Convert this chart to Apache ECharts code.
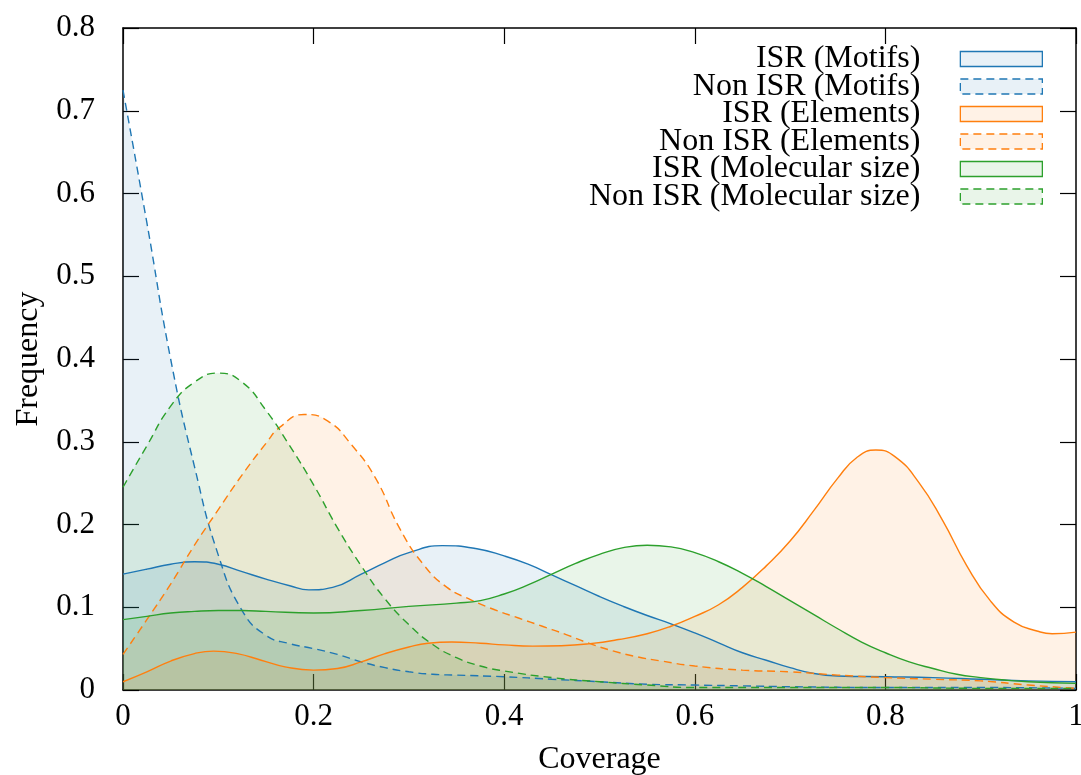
<!DOCTYPE html>
<html>
<head>
<meta charset="utf-8">
<script src="https://cdn.jsdelivr.net/npm/echarts@6/dist/echarts.min.js"></script>
<style>
  html, body { margin: 0; padding: 0; background: #ffffff; }
  #chart { width: 1081px; height: 775px; }
</style>
</head>
<body>
<div id="chart"></div>
<script>
// Density curves as [coverage, frequency] samples, one array per group
const isrMotifs = [[0, 0.140], [0.025, 0.146], [0.05, 0.152], [0.075, 0.155], [0.1, 0.152],
  [0.125, 0.143], [0.15, 0.134], [0.175, 0.126], [0.195, 0.121], [0.22, 0.124], [0.25, 0.140],
  [0.275, 0.154], [0.3, 0.166], [0.335, 0.1745], [0.37, 0.171], [0.4, 0.162], [0.425, 0.152],
  [0.45, 0.139], [0.475, 0.126], [0.5, 0.113], [0.525, 0.101], [0.55, 0.090], [0.575, 0.080],
  [0.6, 0.069], [0.625, 0.057], [0.65, 0.045], [0.675, 0.036], [0.7, 0.027], [0.725, 0.020],
  [0.75, 0.017], [0.8, 0.016], [0.85, 0.015], [0.9, 0.013], [0.95, 0.011], [1, 0.010]];

const nonIsrMotifs = [[0, 0.725], [0.025, 0.565], [0.05, 0.400], [0.075, 0.270], [0.1, 0.163],
  [0.125, 0.096], [0.15, 0.066], [0.175, 0.056], [0.2, 0.050], [0.225, 0.043], [0.25, 0.034],
  [0.275, 0.027], [0.3, 0.022], [0.325, 0.019], [0.35, 0.018], [0.4, 0.016], [0.45, 0.013],
  [0.5, 0.010], [0.55, 0.007], [0.6, 0.006], [0.65, 0.005], [0.7, 0.004], [0.8, 0.003],
  [0.9, 0.003], [1, 0.002]];

const isrElements = [[0, 0.010], [0.025, 0.022], [0.05, 0.035], [0.075, 0.044], [0.095, 0.047],
  [0.12, 0.044], [0.145, 0.036], [0.17, 0.028], [0.2, 0.024], [0.225, 0.026], [0.25, 0.034],
  [0.275, 0.044], [0.3, 0.052], [0.32, 0.0565], [0.345, 0.058], [0.375, 0.0565], [0.4, 0.0545],
  [0.43, 0.053], [0.46, 0.0535], [0.49, 0.056], [0.52, 0.061], [0.55, 0.068], [0.575, 0.077],
  [0.6, 0.089], [0.625, 0.103], [0.65, 0.124], [0.675, 0.150], [0.7, 0.180], [0.725, 0.217],
  [0.75, 0.256], [0.77, 0.281], [0.79, 0.290], [0.81, 0.282], [0.835, 0.251], [0.86, 0.205],
  [0.885, 0.151], [0.91, 0.108], [0.935, 0.082], [0.96, 0.071], [0.975, 0.068], [1, 0.070]];

const nonIsrElements = [[0, 0.043], [0.025, 0.085], [0.05, 0.128], [0.075, 0.175], [0.1, 0.218],
  [0.125, 0.260], [0.15, 0.298], [0.165, 0.318], [0.19, 0.333], [0.215, 0.325], [0.24, 0.296],
  [0.265, 0.256], [0.29, 0.196], [0.315, 0.152], [0.34, 0.124], [0.365, 0.109], [0.39, 0.097],
  [0.415, 0.087], [0.44, 0.077], [0.465, 0.067], [0.49, 0.056], [0.515, 0.047], [0.54, 0.040],
  [0.565, 0.035], [0.6, 0.029], [0.65, 0.024], [0.7, 0.022], [0.75, 0.018], [0.8, 0.015],
  [0.85, 0.013], [0.9, 0.011], [0.95, 0.006], [1, 0.002]];

const isrMolSize = [[0, 0.085], [0.025, 0.089], [0.05, 0.093], [0.075, 0.095], [0.1, 0.096],
  [0.125, 0.096], [0.15, 0.095], [0.2, 0.093], [0.25, 0.096], [0.3, 0.101], [0.35, 0.105],
  [0.375, 0.108], [0.4, 0.116], [0.425, 0.127], [0.45, 0.140], [0.475, 0.153], [0.5, 0.164],
  [0.525, 0.172], [0.55, 0.175], [0.575, 0.173], [0.6, 0.166], [0.625, 0.155], [0.65, 0.141],
  [0.675, 0.125], [0.7, 0.108], [0.725, 0.091], [0.75, 0.074], [0.775, 0.058], [0.8, 0.045],
  [0.825, 0.034], [0.85, 0.026], [0.875, 0.019], [0.9, 0.015], [0.925, 0.012], [0.95, 0.010],
  [1, 0.008]];

const nonIsrMolSize = [[0, 0.245], [0.025, 0.295], [0.05, 0.343], [0.075, 0.372], [0.1, 0.383],
  [0.125, 0.372], [0.15, 0.338], [0.175, 0.295], [0.2, 0.248], [0.225, 0.196], [0.25, 0.150],
  [0.275, 0.110], [0.3, 0.079], [0.325, 0.055], [0.35, 0.039], [0.375, 0.029], [0.4, 0.023],
  [0.45, 0.015], [0.5, 0.010], [0.55, 0.006], [0.6, 0.003], [0.7, 0.003], [0.8, 0.003],
  [0.9, 0.002], [1, 0.002]];

const seriesNames = ['ISR (Motifs)', 'Non ISR (Motifs)', 'ISR (Elements)',
  'Non ISR (Elements)', 'ISR (Molecular size)', 'Non ISR (Molecular size)'];
const seriesValues = [isrMotifs, nonIsrMotifs, isrElements, nonIsrElements, isrMolSize, nonIsrMolSize];
const seriesColors = ['#1f77b4', '#1f77b4', '#ff7f0e', '#ff7f0e', '#2ca02c', '#2ca02c'];
const seriesDashed = [false, true, false, true, false, true];

const xRange = { min: 0, max: 1, interval: 0.2 };
const yRange = { min: 0, max: 0.8, interval: 0.1 };

const FONT = 'Liberation Serif';
const DASH = [8, 5];

function rgba(hex, a) {
  const n = parseInt(hex.slice(1), 16);
  return 'rgba(' + (n >> 16) + ',' + ((n >> 8) & 255) + ',' + (n & 255) + ',' + a + ')';
}

const series = seriesNames.map(function (name, i) {
  return {
    name: name,
    type: 'line',
    xAxisIndex: 0,
    yAxisIndex: 0,
    smooth: 0.5,
    showSymbol: false,
    symbol: 'none',
    data: seriesValues[i],
    lineStyle: { color: seriesColors[i], width: 1.4, type: seriesDashed[i] ? DASH : 'solid' },
    itemStyle: { color: seriesColors[i] },
    areaStyle: { color: seriesColors[i], opacity: 0.1 },
    emphasis: { disabled: true }
  };
});

const legendData = seriesNames.map(function (name, i) {
  return {
    name: name,
    icon: 'rect',
    itemStyle: {
      color: rgba(seriesColors[i], 0.1),
      borderColor: seriesColors[i],
      borderWidth: 1.3,
      borderType: seriesDashed[i] ? DASH : 'solid',
      opacity: 1
    }
  };
});

const axisLineStyle = { show: true, onZero: false, lineStyle: { color: '#000', width: 1.5 } };
const tickStyle = { show: true, inside: true, length: 16, lineStyle: { color: '#000', width: 1.2 } };
const labelStyle = { fontFamily: FONT, fontSize: 31, color: '#000' };

const chart = echarts.init(document.getElementById('chart'), null, { renderer: 'canvas' });
chart.setOption({
  animation: false,
  backgroundColor: '#ffffff',
  grid: {
    left: 123, right: 5, top: 28, bottom: 85,
    containLabel: false, outerBoundsMode: 'none'
  },
  legend: {
    orient: 'vertical',
    align: 'right',
    right: 38,
    top: 43,
    padding: 0,
    itemWidth: 82,
    itemHeight: 15,
    itemGap: -4.5,
    selectedMode: false,
    textStyle: {
      fontFamily: FONT, fontSize: 32, color: '#000',
      padding: [0, 35, 0, 0]
    },
    data: legendData
  },
  xAxis: [{
    type: 'value', position: 'bottom',
    min: xRange.min, max: xRange.max, interval: xRange.interval,
    name: 'Coverage', nameLocation: 'middle', nameGap: 54,
    nameTextStyle: { fontFamily: FONT, fontSize: 32, color: '#000' },
    axisLine: axisLineStyle, axisTick: tickStyle,
    axisLabel: Object.assign({ margin: 11 }, labelStyle),
    splitLine: { show: false }
  }, {
    type: 'value', position: 'top',
    min: xRange.min, max: xRange.max, interval: xRange.interval,
    axisLine: axisLineStyle, axisTick: tickStyle,
    axisLabel: { show: false }, splitLine: { show: false }
  }],
  yAxis: [{
    type: 'value', position: 'left',
    min: yRange.min, max: yRange.max, interval: yRange.interval,
    name: 'Frequency', nameLocation: 'middle', nameGap: 78, nameRotate: 90,
    nameTextStyle: { fontFamily: FONT, fontSize: 32, color: '#000' },
    axisLine: axisLineStyle, axisTick: tickStyle,
    axisLabel: Object.assign({ margin: 28 }, labelStyle),
    splitLine: { show: false }
  }, {
    type: 'value', position: 'right',
    min: yRange.min, max: yRange.max, interval: yRange.interval,
    axisLine: axisLineStyle, axisTick: tickStyle,
    axisLabel: { show: false }, splitLine: { show: false }
  }],
  series: series
});
</script>
</body>
</html>
